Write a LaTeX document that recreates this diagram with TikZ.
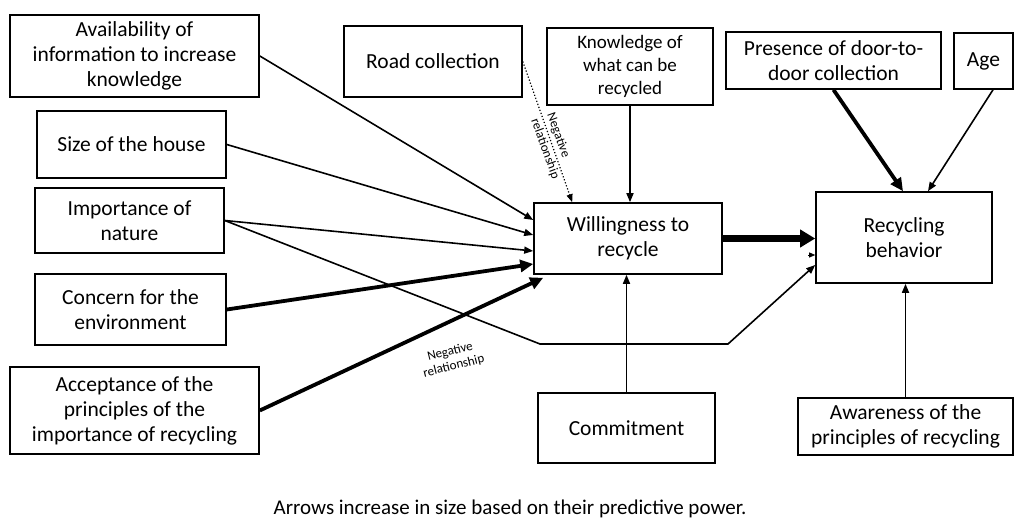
\documentclass[tikz,border=0pt]{standalone}
\usepackage{fontspec}
\setmainfont{Carlito}
\usetikzlibrary{arrows.meta}
\begin{document}
\begin{tikzpicture}[x=1pt,y=-1pt,
  box/.style={draw=black, line width=1.6pt, rectangle, align=center, inner sep=0pt,
    font=\fontsize{21.5}{25}\selectfont},
  smallbox/.style={box, font=\fontsize{19}{23}\selectfont},
  thinarrow/.style={line width=1.6pt, -{Triangle[length=9pt,width=7pt]}},
  thickarrow/.style={line width=3.8pt, -{Triangle[length=13pt,width=12pt]}},
  heavyarrow/.style={line width=6.5pt, -{Triangle[length=15pt,width=17pt]}},
  dotarrow/.style={line width=1.2pt, dotted, -{Triangle[length=8pt,width=6pt]}},
  lab/.style={align=center, font=\fontsize{13}{15}\selectfont, inner sep=0pt}
]
\useasboundingbox (0,0) rectangle (1020,526);

\node[box, minimum width=249, minimum height=82] (avail) at (134.5,56) {Availability of\\information to increase\\knowledge};
\node[box, minimum width=189, minimum height=67] (size) at (131.5,144.5) {Size of the house};
\node[box, minimum width=189, minimum height=65] (imp) at (129.5,220.5) {Importance of\\nature};
\node[box, minimum width=191, minimum height=71] (concern) at (130.5,309.5) {Concern for the\\environment};
\node[box, minimum width=249, minimum height=87] (accept) at (134.5,410.5) {Acceptance of the\\principles of the\\importance of recycling};
\node[box, minimum width=178, minimum height=71] (road) at (433,61.5) {Road collection};
\node[smallbox, minimum width=166, minimum height=77] (know) at (630,66.5) {Knowledge of\\what can be\\recycled};
\node[box, minimum width=188, minimum height=71] (will) at (628,238.5) {Willingness to\\recycle};
\node[box, minimum width=176, minimum height=91] (rec) at (904,237.5) {Recycling\\behavior};
\node[box, minimum width=215, minimum height=57] (pres) at (833.5,60.5) {Presence of door-to-\\door collection};
\node[box, minimum width=59, minimum height=56] (age) at (983.5,61) {Age};
\node[box, minimum width=177, minimum height=70] (commit) at (626.5,428) {Commitment};
\node[box, minimum width=215, minimum height=57] (aware) at (905.5,426.5) {Awareness of the\\principles of recycling};

% arrows into willingness
\draw[thinarrow] (avail.east) -- ([yshift=18.5pt]will.west);
\draw[thinarrow] (size.east) -- ([yshift=3.5pt]will.west);
\draw[thinarrow] (imp.east) -- ([yshift=-12.5pt]will.west);
\draw[thickarrow] (concern.east) -- ([yshift=-25.5pt]will.west);
\draw[thickarrow] (accept.east) -- ([xshift=10pt,yshift=-3pt]will.south west);
\draw[dotarrow] (road.east) -- ([xshift=39pt]will.north west);
\draw[thinarrow] (know.south) -- (know.south |- will.north);
\draw[thinarrow] (commit.north) -- (commit.north |- will.south);

% importance to recycling behavior
\coordinate (c1) at (540,344);
\coordinate (c2) at (728,344);
\draw[thinarrow] (imp.east) -- (c1) -- (c2) -- ([yshift=-27.5pt]rec.west);

% into recycling behavior
\draw[heavyarrow] (will.east) -- (will.east -| rec.west);
\draw[thickarrow] (pres.south) -- ([xshift=-1pt]rec.north);
\draw[thinarrow] ([xshift=9.5pt]age.south) -- ([xshift=24pt]rec.north);
\draw[thinarrow] (aware.north) -- (aware.north |- rec.south);
\coordinate (stray) at (808,255);
\draw[line width=0.8pt, -{Triangle[length=6pt,width=5pt]}] (stray) -- ([yshift=-17.5pt]rec.west);

% labels
\node[lab, align=left, rotate=-70, font=\fontsize{13}{17}\selectfont] (neg1) at (553,146) {Negative\\relationship};
\node[lab, rotate=14] (neg2) at (452,359) {Negative\\relationship};

\node[font=\fontsize{21}{25}\selectfont, inner sep=0pt] (caption) at (510,509) {Arrows increase in size based on their predictive power.};
\end{tikzpicture}
\end{document}
